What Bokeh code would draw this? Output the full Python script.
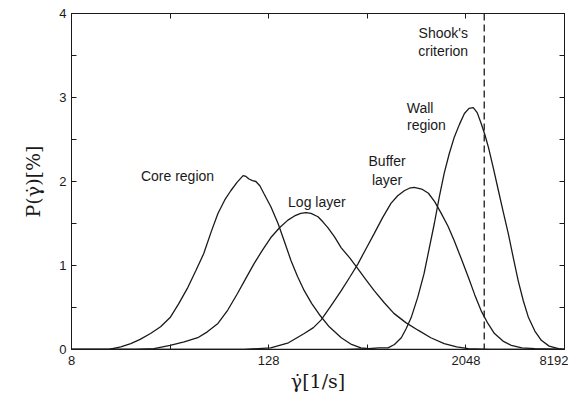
from bokeh.plotting import figure
from bokeh.models import FixedTicker, LogAxis, LinearAxis, Span, Label, PrintfTickFormatter
from bokeh.embed import file_html
from bokeh.resources import INLINE

# ---- data (shear rate [1/s], probability [%]) ----
core_x = [8, 13.5, 16, 18.4, 21, 24.3, 28, 32, 36, 41.1, 46, 51.3, 57, 62.7, 69, 75.1,
          82, 89.3, 93, 97, 102, 106.9, 113, 119.4, 132, 146, 160, 175, 192, 211, 234,
          260, 300, 355, 410, 468, 588, 8192]
core_y = [0, 0.0, 0.03, 0.07, 0.12, 0.19, 0.27, 0.38, 0.54, 0.74, 0.94, 1.14, 1.40, 1.62,
          1.78, 1.89, 1.99, 2.07, 2.06, 2.03, 2.01, 2.00, 1.95, 1.86, 1.70, 1.50, 1.28,
          1.06, 0.87, 0.70, 0.55, 0.42, 0.27, 0.14, 0.06, 0.02, 0.0, 0]

log_x = [8, 19.7, 25.5, 32, 39, 47.2, 54, 62.7, 72, 82.7, 93, 104, 117, 131.6, 149,
         167.7, 184, 200.8, 216, 232, 256, 274, 294, 323, 355, 400, 449, 503, 564, 648,
         744, 880, 1045, 1250, 1510, 1800, 2120, 2896, 8192]
log_y = [0, 0, 0.01, 0.05, 0.09, 0.14, 0.21, 0.31, 0.47, 0.67, 0.85, 1.02, 1.18, 1.33,
         1.45, 1.54, 1.59, 1.62, 1.63, 1.62, 1.58, 1.52, 1.45, 1.34, 1.21, 1.09, 0.96,
         0.83, 0.70, 0.56, 0.43, 0.32, 0.23, 0.14, 0.07, 0.03, 0.01, 0, 0]

buffer_x = [8, 90.5, 131.6, 169, 211, 240, 267, 305, 355, 400, 449, 503, 564, 635, 714,
            785, 861, 925, 989, 1100, 1209, 1320, 1448, 1590, 1734, 1920, 2120, 2320,
            2539, 2790, 3061, 3450, 3875, 4500, 5405, 8192]
buffer_y = [0, 0, 0.02, 0.08, 0.19, 0.26, 0.35, 0.51, 0.70, 0.86, 1.02, 1.20, 1.38, 1.57,
            1.74, 1.83, 1.89, 1.92, 1.93, 1.91, 1.86, 1.76, 1.62, 1.47, 1.30, 1.08, 0.86,
            0.65, 0.46, 0.31, 0.19, 0.10, 0.05, 0.02, 0.01, 0]

wall_x = [8, 362, 519, 600, 685, 750, 826, 885, 949, 1040, 1136, 1222, 1314, 1410, 1510,
          1620, 1734, 1870, 2006, 2140, 2272, 2400, 2539, 2680, 2817, 3020, 3236, 3470,
          3717, 3980, 4270, 4590, 4938, 5400, 5913, 6600, 7537, 8192]
wall_y = [0, 0, 0.01, 0.02, 0.02, 0.06, 0.14, 0.25, 0.38, 0.62, 0.90, 1.20, 1.50, 1.82,
          2.10, 2.33, 2.52, 2.68, 2.81, 2.87, 2.88, 2.82, 2.69, 2.55, 2.40, 2.15, 1.89,
          1.63, 1.38, 1.10, 0.82, 0.58, 0.38, 0.22, 0.11, 0.04, 0.01, 0]

shook_criterion = 2650

x_ticks = [8, 128, 2048, 8192]
x_minor = [32, 512]
y_ticks = [0, 1, 2, 3, 4]
y_minor = [0.5, 1.5, 2.5, 3.5]

labels = [
    ("Core region", 35.5, 2.06),
    ("Log layer", 252, 1.76),
    ("Buffer", 676, 2.24),
    ("layer", 676, 2.02),
    ("Wall", 1075, 2.88),
    ("region", 1176, 2.67),
    ("Shook's", 1489, 3.77),
    ("criterion", 1489, 3.55),
]

INK = "#1a1a1a"
TICKFONT = "Liberation Sans"
MATHFONT = "DejaVu Serif"

p = figure(x_axis_type="log", x_range=(8, 8192), y_range=(0, 4),
           frame_width=493, frame_height=336,
           min_border_left=71, min_border_top=13, min_border_right=4, min_border_bottom=10,
           output_backend="svg", toolbar_location=None)
p.grid.visible = False
p.outline_line_color = INK
p.background_fill_color = "white"
p.border_fill_color = "white"

for xs, ys in [(core_x, core_y), (log_x, log_y), (buffer_x, buffer_y), (wall_x, wall_y)]:
    p.line(xs, ys, line_color=INK, line_width=1.3)

p.add_layout(Span(location=shook_criterion, dimension="height", line_color=INK,
                  line_width=1.3, line_dash="7 4"))

for txt, lx, ly in labels:
    p.add_layout(Label(x=lx, y=ly, text=txt, text_align="center", text_baseline="middle",
                       text_font=TICKFONT, text_font_size="14px", text_color=INK))

def style(ax, show_labels=True):
    ax.axis_line_color = INK
    ax.major_tick_in = 5
    ax.major_tick_out = 0
    ax.minor_tick_in = 5
    ax.minor_tick_out = 0
    ax.major_tick_line_color = INK
    ax.minor_tick_line_color = INK
    ax.major_label_text_font = TICKFONT
    ax.major_label_text_font_size = "13px"
    ax.major_label_text_color = INK
    if not show_labels:
        ax.major_label_text_alpha = 0
        ax.major_label_standoff = 0
        ax.major_label_text_font_size = "1px"

xa = p.xaxis[0]
xa.ticker = FixedTicker(ticks=x_ticks, minor_ticks=x_minor)
xa.formatter = PrintfTickFormatter(format="%d")
style(xa)
xa.major_label_standoff = 6
xa.axis_label = "\u03b3\u0307[1/s]"
xa.axis_label_text_font = MATHFONT
xa.axis_label_text_font_style = "normal"
xa.axis_label_text_font_size = "19px"
xa.axis_label_standoff = 2
xa.axis_label_text_color = INK

ya = p.yaxis[0]
ya.ticker = FixedTicker(ticks=y_ticks, minor_ticks=y_minor)
style(ya)
ya.axis_label = "P(\u03b3\u0307)[%]"
ya.axis_label_text_font = MATHFONT
ya.axis_label_text_font_style = "normal"
ya.axis_label_text_font_size = "19px"
ya.axis_label_standoff = 12
ya.axis_label_text_color = INK

top = LogAxis(ticker=FixedTicker(ticks=x_ticks, minor_ticks=x_minor))
style(top, False)
p.add_layout(top, "above")
right = LinearAxis(ticker=FixedTicker(ticks=y_ticks, minor_ticks=y_minor))
style(right, False)
p.add_layout(right, "right")

open("out.html", "w").write(file_html(p, INLINE))
